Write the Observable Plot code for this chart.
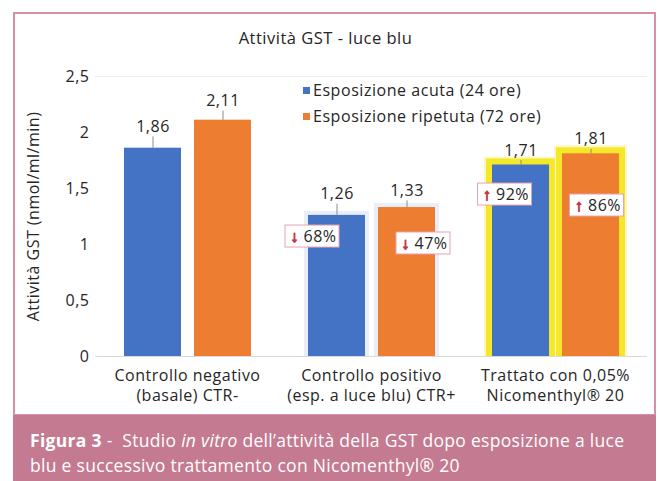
<!DOCTYPE html>
<html><head><meta charset="utf-8">
<script src="https://cdn.jsdelivr.net/npm/d3@7"></script>
<script src="https://cdn.jsdelivr.net/npm/@observablehq/plot@0.6"></script>
<style>
html,body{margin:0;padding:0;background:#fff;}
#page{position:relative;width:659px;height:481px;overflow:hidden;font-family:"Open Sans",sans-serif;background:#fff;}
#frame{position:absolute;left:13px;top:12px;width:639px;height:400px;border:2px solid #d590a3;background:#fff;}
#chart{position:absolute;left:0;top:0;}
#title{position:absolute;left:-9px;width:639px;top:13px;text-align:center;font-size:16.5px;letter-spacing:0.5px;color:#262626;line-height:22px;}
#legend{position:absolute;left:288px;top:63px;font-size:16px;letter-spacing:0.55px;color:#262626;}
#legend .row{display:flex;align-items:center;height:26px;white-space:nowrap;}
#legend .sw{width:7px;height:7px;margin-right:3px;}
#caption{position:absolute;left:13px;top:415px;width:643px;height:66px;background:#c47a90;color:#fff;font-size:17.5px;letter-spacing:0.3px;line-height:25px;box-sizing:border-box;padding:13px 0 0 17px;white-space:nowrap;}
#caption b{font-weight:700;}
</style>
</head><body>
<div id="page">
  <div id="frame">
    <div id="chart"></div>
    <div id="title"></div>
    <div id="legend"></div>
  </div>
  <div id="caption"><b>Figura 3</b> -&nbsp; Studio <i>in vitro</i> dell’attività della GST dopo esposizione a luce<br>blu e successivo trattamento con Nicomenthyl® 20</div>
</div>
<script>
// ---- data ----
const chartTitle = "Attività GST - luce blu";
const yLabel = "Attività GST (nmol/ml/min)";
const categories = [
  "Controllo negativo\n(basale) CTR-",
  "Controllo positivo\n(esp. a luce blu) CTR+",
  "Trattato con 0,05%\nNicomenthyl® 20"
];
const series = ["Esposizione acuta (24 ore)", "Esposizione ripetuta (72 ore)"];
const acuta = [1.86, 1.26, 1.71];
const ripetuta = [2.11, 1.33, 1.81];
const errAcuta = [0.10, 0.10, 0.04];
const errRipetuta = [0.08, 0.06, 0.04];
const yTicks = [0, 0.5, 1, 1.5, 2, 2.5];
const highlighted = [categories[2]];
const annoCategory = [categories[1], categories[1], categories[2], categories[2]];
const annoSeries = [series[0], series[1], series[0], series[1]];
const annoText = ["68%", "47%", "92%", "86%"];
const annoDir = ["down", "down", "up", "up"];
const annoY = [1.071, 1.009, 1.446, 1.348];

// ---- layout (styling only) ----
const annoOffset = [-24.5, 16.5, -16, 6];   // box centre offset from bar centre, px
const boxW = 54, boxH = 22, bandW = 57;

const colors = ["#4472c4", "#ed7d31"];
const fmt = v => String(v).replace(".", ",");
const fmt2 = v => v.toFixed(2).replace(".", ",");

const rows = categories.flatMap((c, i) => [
  {category: c, series: series[0], value: acuta[i], err: errAcuta[i]},
  {category: c, series: series[1], value: ripetuta[i], err: errRipetuta[i]}
]);
const annos = annoText.map((t, i) => ({category: annoCategory[i], series: annoSeries[i], text: t, dir: annoDir[i], y: annoY[i], off: annoOffset[i]}));

const annoMarks = annos.flatMap(a => [
  Plot.barY([a], {fx: "category", x: "series", y1: "y", y2: "y",
    insetLeft: bandW / 2 - boxW / 2 + a.off, insetRight: bandW / 2 - boxW / 2 - a.off,
    insetTop: -boxH / 2, insetBottom: -boxH / 2,
    fill: "white", stroke: "#e7a3b0", strokeWidth: 1}),
  Plot.text([a], {fx: "category", x: "series", y: "y", text: d => d.dir === "down" ? "↓" : "↑",
    dx: a.off - boxW / 2 + 9, fill: "#c23b4c", stroke: "#c23b4c", strokeWidth: 1.1, fontWeight: "bold", fontSize: 16}),
  Plot.text([a], {fx: "category", x: "series", y: "y", text: "text",
    dx: a.off - boxW / 2 + 34.5, fill: "#262626", fontSize: 16})
]);

const hi = rows.filter(d => highlighted.includes(d.category));
const mid = rows.filter(d => d.category === categories[1]);

const chart = Plot.plot({
  width: 639, height: 400,
  marginTop: 62, marginBottom: 58, marginLeft: 80, marginRight: 7,
  style: {fontFamily: '"Open Sans", sans-serif', fontSize: "16px", letterSpacing: "0.5px", color: "#262626", background: "transparent", overflow: "visible"},
  fx: {domain: categories, padding: 0, label: null},
  x: {domain: series, paddingInner: 0.186, paddingOuter: 0.407, axis: null},
  y: {domain: [0, 2.5], label: null},
  color: {domain: series, range: colors},
  marks: [
    Plot.ruleY([2.5], {stroke: "#eeeeee"}),
    Plot.ruleY([0], {stroke: "#d9d9d9"}),
    Plot.barY(mid, {fx: "category", x: "series", y: "value", fill: "#e9eef8", inset: -4, insetBottom: 0}),
    Plot.barY(hi, {fx: "category", x: "series", y: "value", fill: "#fcf8c4", inset: -8, insetBottom: 0}),
    Plot.barY(hi, {fx: "category", x: "series", y: "value", fill: "#f5e82a", inset: -6, insetBottom: 0}),
    Plot.barY(rows, {fx: "category", x: "series", y: "value", fill: "series"}),
    Plot.ruleX(rows, {fx: "category", x: "series", y1: "value", y2: d => d.value + d.err, stroke: "#8c8c8c"}),
    Plot.text(rows, {fx: "category", x: "series", y: d => d.value + d.err, text: d => fmt2(d.value), dy: -10, fill: "#262626", fontSize: 16}),
    ...annoMarks,
    Plot.axisY({ticks: yTicks, tickFormat: fmt, tickSize: 0, tickPadding: 6, fontSize: 16,
      label: yLabel, labelAnchor: "center", labelOffset: 68, labelArrow: "none"}),
    Plot.axisFx({anchor: "bottom", tickSize: 0, tickPadding: 10, label: null, fontSize: 16, lineHeight: 1.25})
  ]
});
document.getElementById("chart").appendChild(chart);
document.getElementById("title").textContent = chartTitle;

const color = chart.scale("color");
const legend = document.getElementById("legend");
series.forEach((s, i) => {
  const row = document.createElement("div");
  row.className = "row";
  const sw = document.createElement("span");
  sw.className = "sw";
  sw.style.background = color.range[i];
  const t = document.createElement("span");
  t.textContent = s;
  row.appendChild(sw); row.appendChild(t);
  legend.appendChild(row);
});
</script>
</body></html>
